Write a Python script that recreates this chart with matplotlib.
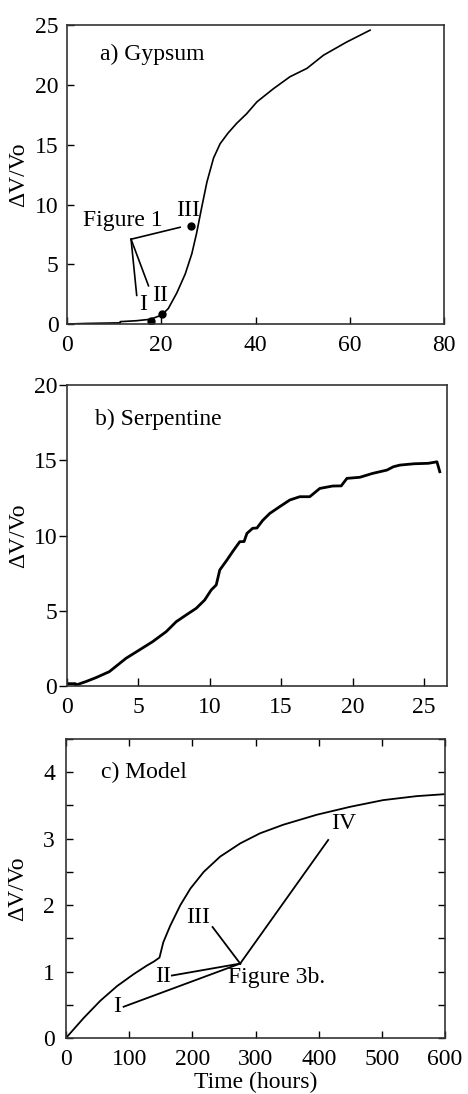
import matplotlib
matplotlib.use("Agg")
from matplotlib import pyplot as plt

plt.rcParams['font.family'] = ['Liberation Serif', 'DejaVu Serif']
plt.rcParams['font.size'] = 17

# a) Gypsum
gyp_t = [0, 4, 11.3, 11.3, 14.8, 17.7, 20.1, 21.5, 23.3, 25.1, 26.5, 27.5, 28.6, 29.7,
         31.1, 32.5, 34.2, 36.0, 38.1, 40.3, 43.8, 47.3, 50.9, 54.4, 59.3, 64.3]
gyp_v = [0, 0.05, 0.1, 0.2, 0.28, 0.4, 0.75, 1.3, 2.6, 4.2, 5.9, 7.6, 9.8, 11.9,
         13.9, 15.1, 16.0, 16.8, 17.6, 18.6, 19.7, 20.7, 21.4, 22.5, 23.6, 24.6]
gyp_pts_t = [17.8, 20.2, 26.4]
gyp_pts_v = [0.28, 0.81, 8.2]
gyp_pts_lab = ['I', 'II', 'III']

# b) Serpentine
ser_t = [0, 0.6, 0.6, 1.33, 2.03, 2.97, 4.14, 5.07, 6.01, 6.95, 7.65, 8.35, 9.05, 9.64,
         10.1, 10.45, 10.7, 11.2, 11.6, 12.1, 12.4, 12.6, 13.0, 13.3, 13.7, 14.2, 14.9,
         15.6, 16.3, 17.0, 17.7, 18.6, 19.2, 19.6, 20.5, 21.4, 22.4, 22.85, 23.3, 24.3,
         25.3, 25.9, 26.1]
ser_v = [0.15, 0.15, 0.05, 0.29, 0.55, 0.95, 1.84, 2.39, 2.95, 3.61, 4.27, 4.72, 5.16, 5.71,
         6.38, 6.71, 7.71, 8.37, 8.93, 9.59, 9.6, 10.14, 10.48, 10.5, 11.0, 11.47, 11.92,
         12.36, 12.58, 12.58, 13.13, 13.29, 13.3, 13.8, 13.87, 14.13, 14.35, 14.57, 14.68, 14.77,
         14.8, 14.9, 14.24]

# c) Model
mod_t = [0, 27.9, 54.3, 80.7, 107, 128, 139, 148, 154, 165, 181, 197, 218, 244, 276,
         307, 344, 397, 450, 502, 555, 600]
mod_v = [0, 0.30, 0.56, 0.78, 0.96, 1.09, 1.15, 1.21, 1.44, 1.69, 2.0, 2.25, 2.5, 2.73, 2.93,
         3.08, 3.21, 3.36, 3.48, 3.58, 3.64, 3.67]
mod_hub = (275.7, 1.12)
mod_ends_t = [91.2, 167.6, 232, 415]
mod_ends_v = [0.47, 0.94, 1.67, 2.98]
mod_lab = ['I', 'II', 'III', 'IV']
mod_lab_t = [80.7, 153, 209, 439]
mod_lab_v = [0.48, 0.93, 1.82, 3.23]

fig = plt.figure(figsize=(4.68, 10.94), dpi=100)
ax1 = fig.add_axes([0.143, 0.7038, 0.806, 0.273])
ax2 = fig.add_axes([0.143, 0.373, 0.812, 0.275])
ax3 = fig.add_axes([0.141, 0.0512, 0.81, 0.2733])

for ax in (ax1, ax2, ax3):
    for s in ax.spines.values():
        s.set_linewidth(1.2)
        s.set_color('#333333')
    ax.set_ylabel('ΔV/Vo')
    ax.yaxis.set_label_coords(-0.1, 0.5)

# panel a
ax1.plot(gyp_t, gyp_v, color='black', lw=1.2)
ax1.plot(gyp_pts_t, gyp_pts_v, 'o', color='black', ms=5)
ax1.set_xlim(0, 80)
ax1.set_ylim(0, 25)
ax1.set_xticks([0, 20, 40, 60, 80])
ax1.set_yticks([0, 5, 10, 15, 20, 25])
ax1.tick_params(direction='in', length=5, width=1)
ax1.tick_params(axis='x', pad=8)
ax1.tick_params(axis='y', pad=6)
ax1.text(7.0, 22.6, 'a) Gypsum', va='center', ha='left')
ax1.text(11.8, 8.7, 'Figure 1', va='center', ha='center')
hub = (13.6, 7.1)
for ex, ey in [(24.0, 8.1), (14.8, 2.4), (17.3, 3.2)]:
    ax1.plot([hub[0], ex], [hub[1], ey], color='black', lw=1.2)
for lab, lx, ly in zip(gyp_pts_lab, [16.2, 19.8, 25.6], [1.6, 2.4, 9.5]):
    ax1.text(lx, ly, lab, ha='center', va='center')

# panel b
ax2.plot(ser_t, ser_v, color='black', lw=2)
ax2.set_xlim(0, 26.6)
ax2.set_ylim(0, 20)
ax2.set_xticks([0, 5, 10, 15, 20, 25])
ax2.set_yticks([0, 5, 10, 15, 20])
ax2.tick_params(axis='y', direction='out', length=6, width=1, pad=1)
ax2.tick_params(axis='x', direction='in', length=6, width=1, pad=8)
ax2.text(2.0, 17.7, 'b) Serpentine', va='center', ha='left')

# panel c
ax3.plot(mod_t, mod_v, color='black', lw=1.3)
for ex, ey in zip(mod_ends_t, mod_ends_v):
    ax3.plot([mod_hub[0], ex], [mod_hub[1], ey], color='black', lw=1.3)
for lab, lx, ly in zip(mod_lab, mod_lab_t, mod_lab_v):
    ax3.text(lx, ly, lab, ha='center', va='center')
ax3.text(257, 0.91, 'Figure 3b.', ha='left', va='center')
ax3.text(55, 4.0, 'c) Model', ha='left', va='center')
ax3.set_xlim(0, 600)
ax3.set_ylim(0, 4.5)
ax3.set_xticks([0, 100, 200, 300, 400, 500, 600])
ax3.set_yticks([0, 1, 2, 3, 4])
ax3.set_yticks([0.5, 1.5, 2.5, 3.5, 4.5], minor=True)
ax3.tick_params(which='both', direction='in', length=5, width=1, top=True, right=True)
ax3.tick_params(axis='x', pad=8)
ax3.tick_params(axis='y', pad=8)
ax3.set_xlabel('Time (hours)', labelpad=1)

fig.savefig('out.png', dpi=100)
